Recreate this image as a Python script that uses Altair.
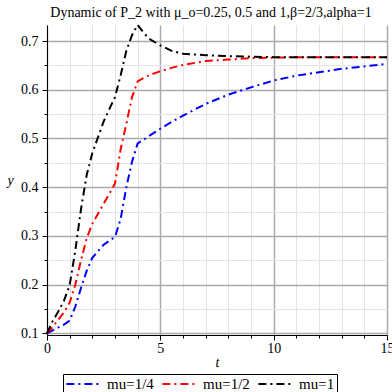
import altair as alt
import pandas as pd

t_vals = [0, 0.25, 0.5, 0.75, 1, 1.25, 1.5, 1.75, 2, 2.5, 3, 3.25, 3.5, 3.75, 4,
          4.25, 4.5, 5, 5.5, 6, 7, 8, 9, 10, 11, 12, 13, 14, 15]

mu_quarter = [0.100, 0.106, 0.112, 0.118, 0.126, 0.155, 0.193, 0.228, 0.255, 0.282, 0.298,
              0.335, 0.400, 0.452, 0.490, 0.497, 0.505, 0.520, 0.534, 0.547, 0.571, 0.590,
              0.605, 0.619, 0.629, 0.636, 0.643, 0.648, 0.653]
mu_half = [0.100, 0.113, 0.128, 0.143, 0.163, 0.200, 0.250, 0.295, 0.325, 0.366, 0.407,
           0.478, 0.530, 0.585, 0.617, 0.624, 0.630, 0.638, 0.645, 0.651, 0.659, 0.662,
           0.665, 0.666, 0.667, 0.667, 0.667, 0.667, 0.667]
mu_one = [0.100, 0.125, 0.145, 0.167, 0.199, 0.270, 0.355, 0.425, 0.470, 0.535, 0.585,
          0.630, 0.680, 0.712, 0.733, 0.718, 0.705, 0.691, 0.680, 0.674, 0.671, 0.669,
          0.668, 0.667, 0.667, 0.667, 0.667, 0.667, 0.667]

series_names = ["mu=1/4", "mu=1/2", "mu=1"]
series_colors = ["#0000ff", "#ff0000", "#000000"]

x_ticks = list(range(0, 16))
y_ticks = [0.1, 0.15, 0.2, 0.25, 0.3, 0.35, 0.4, 0.45, 0.5, 0.55, 0.6, 0.65, 0.7]

rows = []
for name, vals in zip(series_names, [mu_quarter, mu_half, mu_one]):
    for i, (t, v) in enumerate(zip(t_vals, vals)):
        rows.append({"series": name, "t": t, "y": v, "order": i})
df = pd.DataFrame(rows)

FONT = "Liberation Serif, Times New Roman, serif"

x_major = "datum.value % 5 === 0"
y_major = "round(datum.value * 20) % 2 === 0"

x_axis = alt.Axis(
    values=x_ticks,
    title="t",
    titleFontStyle="italic",
    titleFontWeight="normal",
    titleFont=FONT,
    titleFontSize=14,
    titleBaseline="middle",
    titleY=27,
    labelFont=FONT,
    labelFontSize=14,
    labelColor="black",
    labelExpr=f"{x_major} ? datum.label : ''",
    labelFlush=False,
    labelOverlap=False,
    labelPadding=1,
    gridColor={"condition": {"test": x_major, "value": "#aaaaaa"}, "value": "#e4e4e4"},
    gridWidth={"condition": {"test": x_major, "value": 1.5}, "value": 1},
    tickSize={"condition": {"test": x_major, "value": 5}, "value": 3},
)

y_axis = alt.Axis(
    values=y_ticks,
    title="y",
    titleAngle=0,
    titleFontStyle="italic",
    titleFontWeight="normal",
    titleFont=FONT,
    titleFontSize=14,
    titleAlign="center",
    titleBaseline="middle",
    titleX=-37,
    titleY=155,
    labelFont=FONT,
    labelFontSize=14,
    labelColor="black",
    labelExpr=f"{y_major} ? format(datum.value, '.1f') : ''",
    labelOverlap=False,
    labelFlush=False,
    labelPadding=4,
    gridColor={"condition": {"test": y_major, "value": "#aaaaaa"}, "value": "#e4e4e4"},
    gridWidth={"condition": {"test": y_major, "value": 1.5}, "value": 1},
    tickSize={"condition": {"test": y_major, "value": 5}, "value": 3},
)

chart = alt.Chart(df).mark_line(strokeWidth=2, strokeDash=[8, 4, 2, 4]).encode(
    x=alt.X("t:Q", scale=alt.Scale(domain=[0, 15], nice=False, zero=False), axis=x_axis),
    y=alt.Y("y:Q", scale=alt.Scale(domain=[0.0965, 0.733], nice=False, zero=False), axis=y_axis),
    color=alt.Color(
        "series:N",
        scale=alt.Scale(domain=series_names, range=series_colors),
        sort=series_names,
        legend=alt.Legend(
            title=None,
            orient="none",
            legendX=16,
            legendY=349,
            direction="horizontal",
            columns=3,
            symbolType="stroke",
            symbolSize=1100,
            symbolStrokeWidth=2,
            symbolDash=[8, 4, 2, 4],
            clipHeight=16,
            labelFont=FONT,
            labelFontSize=15,
            labelColor="black",
            labelOffset=6,
            columnPadding=7,
            padding=2,
            strokeColor="black",
        ),
    ),
    order="order:Q",
).properties(
    width=340,
    height=310,
    title=alt.TitleParams(
        text="Dynamic of P_2 with \u03bc_o=0.25, 0.5 and 1,\u03b2=2/3,alpha=1",
        font=FONT,
        fontSize=14,
        fontWeight="normal",
        color="black",
        anchor="middle",
        frame="group",
        baseline="bottom",
        offset=4,
        dx=-6,
        dy=17,
    ),
    autosize=alt.AutoSizeParams(type="none"),
    padding={"left": 47, "top": 25, "right": 5, "bottom": 57},
).configure_axis(
    labelFont=FONT,
    labelFontSize=14,
    labelColor="black",
    domainColor="black",
    domainWidth=1,
    tickColor="black",
    titleColor="black",
).configure_view(
    stroke=None,
)

chart.save("out.html", embed_options={"renderer": "svg", "actions": False})
